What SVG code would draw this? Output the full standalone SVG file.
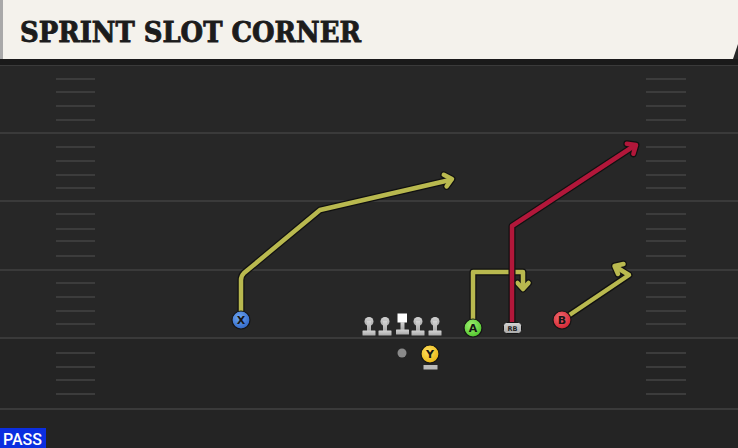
<svg xmlns="http://www.w3.org/2000/svg" width="738" height="448" viewBox="0 0 738 448">
<style>
.yl{stroke:#3a3a3a;stroke-width:2}
.hs{stroke:#3c3c3c;stroke-width:2}
.ro{fill:none;stroke:#111;stroke-width:7;stroke-linejoin:round;stroke-linecap:round}
.ry{fill:none;stroke:#b9b94f;stroke-width:4.5;stroke-linejoin:round;stroke-linecap:round}
.rr{fill:none;stroke:#b2173a;stroke-width:4.5;stroke-linejoin:round;stroke-linecap:round}
.lt{font-family:"DejaVu Sans","Liberation Sans",sans-serif;font-weight:bold;font-size:11px;fill:#151515;text-anchor:middle}
.pl{stroke:#151515;stroke-width:1.2}
.ln{fill:url(#gl)}
</style>
<defs>
<radialGradient id="gx" cx="0.4" cy="0.35" r="0.7"><stop offset="0" stop-color="#6fa6f0"/><stop offset="1" stop-color="#2d64c4"/></radialGradient>
<radialGradient id="ga" cx="0.4" cy="0.35" r="0.7"><stop offset="0" stop-color="#9ef070"/><stop offset="1" stop-color="#4cc22a"/></radialGradient>
<radialGradient id="gb" cx="0.4" cy="0.35" r="0.7"><stop offset="0" stop-color="#f06a70"/><stop offset="1" stop-color="#d0202e"/></radialGradient>
<radialGradient id="gyy" cx="0.4" cy="0.35" r="0.7"><stop offset="0" stop-color="#ffe060"/><stop offset="1" stop-color="#e8b410"/></radialGradient>
<linearGradient id="gl" x1="0" y1="0" x2="0" y2="1"><stop offset="0" stop-color="#d4d4d4"/><stop offset="1" stop-color="#a9a9a9"/></linearGradient>
</defs>
<rect x="0" y="0" width="738" height="448" fill="#272727"/>
<rect x="0" y="338" width="738" height="110" fill="#242424"/>
<g id="field">
<line class="yl" x1="0" y1="65" x2="738" y2="65"/>
<line class="yl" x1="0" y1="133" x2="738" y2="133"/>
<line class="yl" x1="0" y1="201" x2="738" y2="201"/>
<line class="yl" x1="0" y1="270" x2="738" y2="270"/>
<line class="yl" x1="0" y1="338" x2="738" y2="338"/>
<line class="yl" x1="0" y1="409" x2="738" y2="409"/>
<g id="hashes-left">
<line class="hs" x1="56" y1="79" x2="95" y2="79"/><line class="hs" x1="56" y1="92" x2="95" y2="92"/><line class="hs" x1="56" y1="106" x2="95" y2="106"/><line class="hs" x1="56" y1="120" x2="95" y2="120"/>
<line class="hs" x1="56" y1="147" x2="95" y2="147"/><line class="hs" x1="56" y1="161" x2="95" y2="161"/><line class="hs" x1="56" y1="175" x2="95" y2="175"/><line class="hs" x1="56" y1="188" x2="95" y2="188"/>
<line class="hs" x1="56" y1="214" x2="95" y2="214"/><line class="hs" x1="56" y1="229" x2="95" y2="229"/><line class="hs" x1="56" y1="241" x2="95" y2="241"/><line class="hs" x1="56" y1="256" x2="95" y2="256"/>
<line class="hs" x1="56" y1="283" x2="95" y2="283"/><line class="hs" x1="56" y1="297" x2="95" y2="297"/><line class="hs" x1="56" y1="311" x2="95" y2="311"/><line class="hs" x1="56" y1="324" x2="95" y2="324"/>
<line class="hs" x1="56" y1="353" x2="95" y2="353"/><line class="hs" x1="56" y1="367" x2="95" y2="367"/><line class="hs" x1="56" y1="380" x2="95" y2="380"/><line class="hs" x1="56" y1="394" x2="95" y2="394"/>
</g>
<g id="hashes-right">
<line class="hs" x1="646" y1="79" x2="686" y2="79"/><line class="hs" x1="646" y1="92" x2="686" y2="92"/><line class="hs" x1="646" y1="106" x2="686" y2="106"/><line class="hs" x1="646" y1="120" x2="686" y2="120"/>
<line class="hs" x1="646" y1="147" x2="686" y2="147"/><line class="hs" x1="646" y1="161" x2="686" y2="161"/><line class="hs" x1="646" y1="175" x2="686" y2="175"/><line class="hs" x1="646" y1="188" x2="686" y2="188"/>
<line class="hs" x1="646" y1="214" x2="686" y2="214"/><line class="hs" x1="646" y1="229" x2="686" y2="229"/><line class="hs" x1="646" y1="241" x2="686" y2="241"/><line class="hs" x1="646" y1="256" x2="686" y2="256"/>
<line class="hs" x1="646" y1="283" x2="686" y2="283"/><line class="hs" x1="646" y1="297" x2="686" y2="297"/><line class="hs" x1="646" y1="311" x2="686" y2="311"/><line class="hs" x1="646" y1="324" x2="686" y2="324"/>
<line class="hs" x1="646" y1="353" x2="686" y2="353"/><line class="hs" x1="646" y1="367" x2="686" y2="367"/><line class="hs" x1="646" y1="380" x2="686" y2="380"/><line class="hs" x1="646" y1="394" x2="686" y2="394"/>
</g>
</g>
<g id="title">
<rect x="0" y="59" width="738" height="6" fill="#1a1a1a"/>
<path d="M0,0 H738 V44 L733,59 H0 Z" fill="#f4f2ec"/>
<rect x="0" y="0" width="3" height="59" fill="#a9a9a9"/>
<text x="20" y="42" font-family="'DejaVu Serif','Liberation Serif',serif" font-weight="bold" font-size="28" fill="#1c1c1c" stroke="#1c1c1c" stroke-width="0.9" textLength="341" lengthAdjust="spacingAndGlyphs">SPRINT SLOT CORNER</text>
</g>
<g id="connectors">
<g id="route-x">
<path class="ro" d="M241,318 L241,280 Q241,276 244,273 L320,210 L450,180"/>
<polyline class="ro" points="443.8,174.8 452,179 446.6,186.4"/>
<path class="ry" d="M241,318 L241,280 Q241,276 244,273 L320,210 L450,180"/>
<polyline class="ry" points="443.8,174.8 452,179 446.6,186.4"/>
</g>
<g id="route-a">
<path class="ro" d="M473,322 L473,272 L523,272 L523,288"/>
<polyline class="ro" points="517.5,283 523,289 528.5,283"/>
<path class="ry" d="M473,322 L473,272 L523,272 L523,288"/>
<polyline class="ry" points="517.5,283 523,289 528.5,283"/>
</g>
<g id="route-rb">
<path class="ro" d="M512,324 L512,226 L634,146"/>
<polyline class="ro" points="626.8,143.8 636,145 633.4,153.8"/>
<path class="rr" d="M512,324 L512,226 L634,146"/>
<polyline class="rr" points="626.8,143.8 636,145 633.4,153.8"/>
</g>
<g id="route-b">
<path class="ro" d="M562,320 L629,275 L616,267"/>
<polyline class="ro" points="623.5,264 614.5,266 618,274"/>
<path class="ry" d="M562,320 L629,275 L616,267"/>
<polyline class="ry" points="623.5,264 614.5,266 618,274"/>
</g>
</g>
<g id="linemen">
<g id="lt1"><circle class="ln" cx="369" cy="321.5" r="4.5"/><rect class="ln" x="367" y="321" width="4" height="10"/><rect class="ln" x="362.5" y="330.5" width="13" height="5" rx="0.5"/></g>
<g id="lg1"><circle class="ln" cx="385" cy="321.5" r="4.5"/><rect class="ln" x="383" y="321" width="4" height="10"/><rect class="ln" x="378.5" y="330.5" width="13" height="5" rx="0.5"/></g>
<g id="c"><rect x="397.5" y="313.5" width="9.5" height="9" fill="#ffffff"/><rect class="ln" x="400.5" y="322" width="4" height="8"/><rect class="ln" x="396" y="329.5" width="13" height="5" rx="0.5"/></g>
<g id="rg1"><circle class="ln" cx="418" cy="321.5" r="4.5"/><rect class="ln" x="416" y="321" width="4" height="10"/><rect class="ln" x="411.5" y="330.5" width="13" height="5" rx="0.5"/></g>
<g id="rt1"><circle class="ln" cx="435" cy="321.5" r="4.5"/><rect class="ln" x="433" y="321" width="4" height="10"/><rect class="ln" x="428.5" y="330.5" width="13" height="5" rx="0.5"/></g>
</g>
<g id="qb"><circle cx="402" cy="353" r="4.5" fill="#8a8a8a"/></g>
<g id="player-y">
<rect x="423.5" y="365" width="14" height="4.5" fill="#b9b9b9"/>
<circle class="pl" cx="430" cy="354" r="9" fill="url(#gyy)"/>
<text class="lt" x="430" y="358">Y</text>
</g>
<g id="player-x">
<circle class="pl" cx="241" cy="320" r="9" fill="url(#gx)"/>
<text class="lt" x="241" y="324">X</text>
</g>
<g id="player-a">
<circle class="pl" cx="473" cy="328" r="9" fill="url(#ga)"/>
<text class="lt" x="473" y="332">A</text>
</g>
<g id="player-rb">
<rect x="503.5" y="322.5" width="18" height="11" rx="3" fill="url(#gl)" stroke="#151515" stroke-width="1"/>
<text x="512.5" y="331" font-family="'DejaVu Sans','Liberation Sans',sans-serif" font-weight="bold" font-size="6.5" fill="#222" text-anchor="middle">RB</text>
</g>
<g id="player-b">
<circle class="pl" cx="562" cy="320" r="9" fill="url(#gb)"/>
<text class="lt" x="562" y="324">B</text>
</g>
<g id="pass-label">
<rect x="0" y="428" width="46" height="20" fill="#0b2ee0"/>
<text x="3" y="445" font-family="Roboto,'Liberation Sans',sans-serif" font-weight="500" font-size="16" fill="#ffffff" textLength="39" lengthAdjust="spacingAndGlyphs">PASS</text>
</g>
</svg>
